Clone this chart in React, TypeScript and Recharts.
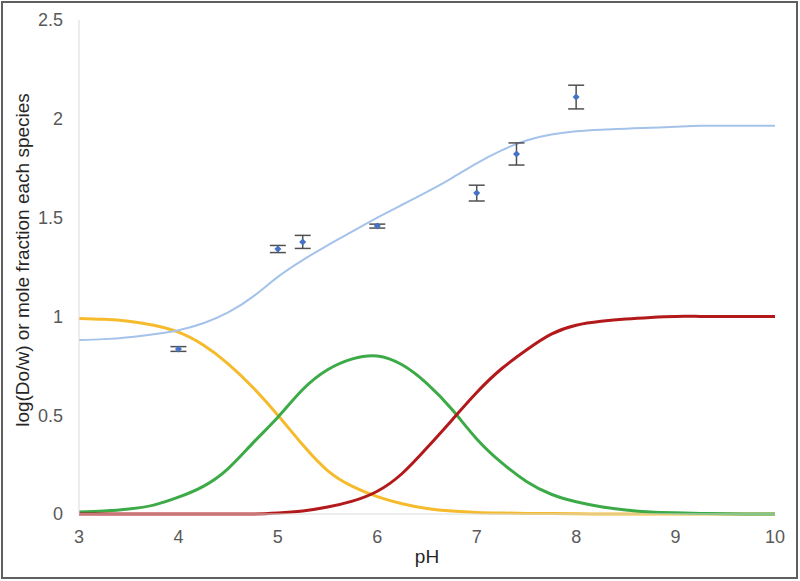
import React from 'react';
import {
  ComposedChart,
  Line,
  Scatter,
  ErrorBar,
  XAxis,
  YAxis,
  Label
} from 'recharts';

// pH grid for the model curves
const phGrid = [
  3, 3.25, 3.5, 3.75, 4, 4.25, 4.5, 4.75, 5, 5.25, 5.5, 5.75, 6, 6.25, 6.5,
  6.75, 7, 7.25, 7.5, 7.75, 8, 8.25, 8.5, 8.75, 9, 9.25, 9.5, 9.75, 10
];

// modelled log(Do/w)
const logDModel = [
  0.88, 0.885, 0.895, 0.91, 0.93, 0.965, 1.02, 1.1, 1.2, 1.285, 1.36, 1.43, 1.5,
  1.565, 1.63, 1.7, 1.775, 1.84, 1.89, 1.92, 1.937, 1.945, 1.95, 1.955, 1.96,
  1.965, 1.965, 1.965, 1.965
];

// mole fractions of each species
const fracAcid = [
  0.99, 0.985, 0.975, 0.955, 0.92, 0.855, 0.76, 0.64, 0.5, 0.35, 0.22, 0.14,
  0.088, 0.052, 0.028, 0.015, 0.008, 0.005, 0.003, 0.002, 0.001, 0, 0, 0, 0, 0,
  0, 0, 0
];
const fracMid = [
  0.01, 0.015, 0.025, 0.045, 0.085, 0.14, 0.23, 0.36, 0.49, 0.63, 0.73, 0.785,
  0.8, 0.755, 0.66, 0.53, 0.38, 0.26, 0.165, 0.1, 0.062, 0.037, 0.02, 0.01,
  0.006, 0.003, 0.001, 0, 0
];
const fracBase = [
  0, 0, 0, 0, 0, 0, 0, 0, 0.005, 0.015, 0.035, 0.065, 0.115, 0.205, 0.335,
  0.475, 0.615, 0.735, 0.83, 0.91, 0.955, 0.975, 0.987, 0.995, 1, 1, 1, 1, 1
];

// measured points with error
const measPH = [4, 5, 5.25, 6, 7, 7.4, 8];
const measLogD = [0.835, 1.341, 1.377, 1.457, 1.624, 1.822, 2.11];
const measErr = [0.012, 0.018, 0.033, 0.01, 0.04, 0.056, 0.06];

const yTicks = [0, 0.5, 1, 1.5, 2, 2.5];
const xTicks = [3, 4, 5, 6, 7, 8, 9, 10];

const curveData = phGrid.map((ph, i) => ({
  ph,
  logD: logDModel[i],
  acid: fracAcid[i],
  mid: fracMid[i],
  base: fracBase[i]
}));

const measData = measPH.map((ph, i) => ({
  ph,
  logD: measLogD[i],
  err: measErr[i]
}));

const FONT = '"Liberation Sans", Arial, Helvetica, sans-serif';

const Diamond = (props: any) => {
  const { cx, cy } = props;
  if (cx == null || cy == null) return null;
  const r = 3.5;
  return (
    <polygon
      points={`${cx},${cy - r} ${cx + r},${cy} ${cx},${cy + r} ${cx - r},${cy}`}
      fill="#4472C4"
    />
  );
};

export default function App() {
  return (
    <div style={{ position: 'absolute', left: 0, top: 0, width: 800, height: 581, background: '#fff' }}>
      <div
        style={{
          position: 'absolute',
          left: 1,
          top: 1,
          width: 797,
          height: 578,
          border: '2px solid #5f5f5f',
          boxSizing: 'border-box'
        }}
      />
      <div style={{ position: 'absolute', left: 0, top: 0 }}>
        <ComposedChart
          width={800}
          height={581}
          data={curveData}
          margin={{ top: 20, right: 25, bottom: 12, left: 0 }}
          style={{ fontFamily: FONT }}
        >
          <XAxis
            dataKey="ph"
            type="number"
            domain={[3, 10]}
            ticks={xTicks}
            height={55}
            tickSize={0}
            tickMargin={16}
            tickLine={false}
            stroke="#d9d9d9"
            tick={{ fill: '#595959', fontSize: 18, fontFamily: FONT }}
          >
            <Label
              value="pH"
              position="insideBottom"
              offset={6}
              style={{ fill: '#262626', fontSize: 19, fontFamily: FONT }}
            />
          </XAxis>
          <YAxis
            type="number"
            domain={[0, 2.5]}
            ticks={yTicks}
            width={79}
            tickSize={0}
            tickMargin={16}
            tickLine={false}
            stroke="#d9d9d9"
            tick={{ fill: '#595959', fontSize: 18, fontFamily: FONT }}
          >
            <Label
              content={({ viewBox }: any) => {
                const x = viewBox.x + 22;
                const y = viewBox.y + viewBox.height / 2 - 7;
                return (
                  <text
                    x={x}
                    y={y}
                    transform={`rotate(-90, ${x}, ${y})`}
                    textAnchor="middle"
                    dominantBaseline="central"
                    fill="#262626"
                    fontSize={19}
                    fontFamily={FONT}
                  >
                    log(Do/w) or mole fraction each species
                  </text>
                );
              }}
            />
          </YAxis>
          <Line
            type="natural"
            dataKey="acid"
            stroke="#F6BB2C"
            strokeWidth={3}
            dot={false}
            isAnimationActive={false}
          />
          <Line
            type="natural"
            dataKey="mid"
            stroke="#3DAA48"
            strokeWidth={3}
            dot={false}
            isAnimationActive={false}
          />
          <Line
            type="natural"
            dataKey="base"
            stroke="#B3191B"
            strokeWidth={3}
            dot={false}
            isAnimationActive={false}
          />
          <Line
            type="natural"
            dataKey="logD"
            stroke="#A4C2EA"
            strokeWidth={2}
            dot={false}
            isAnimationActive={false}
          />
          <Scatter
            data={measData}
            dataKey="logD"
            shape={<Diamond />}
            isAnimationActive={false}
          >
            <ErrorBar
              dataKey="err"
              direction="y"
              width={8}
              stroke="#505050"
              strokeWidth={1.5}
              isAnimationActive={false}
            />
          </Scatter>
        </ComposedChart>
      </div>
    </div>
  );
}
